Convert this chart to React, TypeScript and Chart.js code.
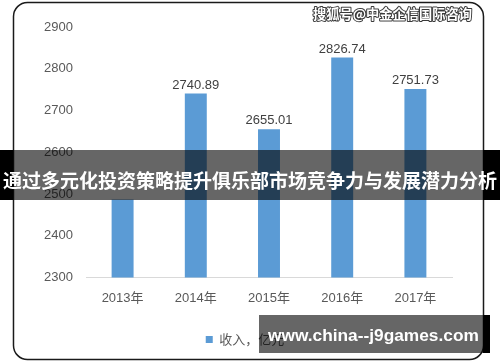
import React, { useEffect, useRef } from "react";
import { Chart, registerables } from "chart.js";

Chart.register(...registerables);

const categories = ["2013年", "2014年", "2015年", "2016年", "2017年"];
const revenue = [2487, 2740.89, 2655.01, 2826.74, 2751.73];
const labelShown = [false, true, true, true, true];
const seriesLabel = "收入，亿元";
const yMin = 2300;
const yMax = 2900;
const yStep = 100;
const bannerTitle = "通过多元化投资策略提升俱乐部市场竞争力与发展潜力分析";
const topMark = "搜狐号@中金企信国际咨询";
const bottomMark = "www.china--j9games.com";

const FONT = "'Liberation Sans', 'Noto Sans CJK SC', sans-serif";
const CJK = "'Noto Sans CJK SC', 'Liberation Sans', sans-serif";

function roundRect(ctx: CanvasRenderingContext2D, x: number, y: number, w: number, h: number, r: number) {
  ctx.beginPath();
  ctx.moveTo(x + r, y);
  ctx.lineTo(x + w - r, y);
  ctx.arcTo(x + w, y, x + w, y + r, r);
  ctx.lineTo(x + w, y + h - r);
  ctx.arcTo(x + w, y + h, x + w - r, y + h, r);
  ctx.lineTo(x + r, y + h);
  ctx.arcTo(x, y + h, x, y + h - r, r);
  ctx.lineTo(x, y + r);
  ctx.arcTo(x, y, x + r, y, r);
  ctx.closePath();
}

const decorPlugin = {
  id: "decor",
  beforeDraw(chart: any) {
    const ctx = chart.ctx as CanvasRenderingContext2D;
    ctx.save();
    ctx.fillStyle = "#ffffff";
    ctx.fillRect(0, 0, chart.width, chart.height);
    ctx.restore();
  },
  afterDatasetsDraw(chart: any) {
    const ctx = chart.ctx as CanvasRenderingContext2D;
    const meta = chart.getDatasetMeta(0);
    ctx.save();
    ctx.font = `13px ${FONT}`;
    ctx.fillStyle = "#404040";
    ctx.textAlign = "center";
    ctx.textBaseline = "bottom";
    meta.data.forEach((bar: any, i: number) => {
      if (!labelShown[i]) return;
      ctx.fillText(revenue[i].toFixed(2), bar.x, bar.y - 2);
    });
    ctx.restore();
  },
  afterDraw(chart: any) {
    const ctx = chart.ctx as CanvasRenderingContext2D;
    ctx.save();
    // rounded frame
    ctx.strokeStyle = "#1a1a1a";
    ctx.lineWidth = 1.5;
    roundRect(ctx, 13.5, 2.5, 470, 357, 14);
    ctx.stroke();

    // top-right watermark
    ctx.font = `bold 14px ${CJK}`;
    ctx.textAlign = "left";
    ctx.textBaseline = "middle";
    const tw = ctx.measureText(topMark).width;
    const scaleT = 159 / tw;
    ctx.font = `bold ${(14 * scaleT).toFixed(2)}px ${CJK}`;
    ctx.lineWidth = 2;
    ctx.strokeStyle = "#3a3a3a";
    ctx.lineJoin = "round";
    ctx.strokeText(topMark, 313, 14);
    ctx.fillStyle = "#ffffff";
    ctx.fillText(topMark, 313, 14);

    // middle banner
    ctx.fillStyle = "#000000";
    ctx.fillRect(0, 150, 13, 50);
    ctx.fillRect(483, 150, 17, 50);
    ctx.fillStyle = "rgba(0,0,0,0.6)";
    ctx.fillRect(13, 150, 470, 50);
    ctx.font = `bold 20px ${CJK}`;
    const bw = ctx.measureText(bannerTitle).width;
    ctx.font = `bold ${(20 * 494 / bw).toFixed(2)}px ${CJK}`;
    ctx.fillStyle = "#ffffff";
    ctx.textAlign = "center";
    ctx.textBaseline = "middle";
    ctx.fillText(bannerTitle, 250, 181);

    // bottom watermark
    ctx.fillStyle = "rgba(0,0,0,0.6)";
    ctx.fillRect(259, 315, 224, 38);
    ctx.fillStyle = "#000000";
    ctx.fillRect(483, 315, 7, 38);
    ctx.font = `bold 17px ${FONT}`;
    const ww = ctx.measureText(bottomMark).width;
    ctx.font = `bold ${(17 * 211 / ww).toFixed(2)}px ${FONT}`;
    ctx.fillStyle = "#ffffff";
    ctx.textAlign = "left";
    ctx.textBaseline = "middle";
    ctx.fillText(bottomMark, 268, 336);
    ctx.restore();
  },
};

export default function App() {
  const ref = useRef<HTMLCanvasElement | null>(null);
  useEffect(() => {
    if (!ref.current) return;
    const chart = new Chart(ref.current, {
      type: "bar",
      data: {
        labels: categories,
        datasets: [
          {
            label: seriesLabel,
            data: revenue,
            backgroundColor: "#5B9BD5",
            borderWidth: 0,
            barPercentage: 0.3,
            categoryPercentage: 1,
          },
        ],
      },
      options: {
        animation: false,
        responsive: false,
        maintainAspectRatio: false,
        layout: { padding: { left: 13, right: 23, top: 27, bottom: 6 } },
        plugins: {
          legend: {
            position: "bottom",
            labels: {
              boxWidth: 7,
              boxHeight: 7,
              padding: 16.5,
              color: "#595959",
              font: { size: 13, family: CJK },
            },
          },
          tooltip: { enabled: false },
        },
        scales: {
          x: {
            grid: { display: false, drawTicks: false },
            border: { display: true, color: "#d9d9d9", width: 1 },
            ticks: { color: "#595959", font: { size: 13, family: FONT }, padding: 13 },
            afterFit: (s: any) => {
              s.height = 39;
            },
          },
          y: {
            min: yMin,
            max: yMax,
            grid: { display: false, drawTicks: false },
            border: { display: false },
            ticks: {
              stepSize: yStep,
              color: "#595959",
              font: { size: 13, family: FONT },
              padding: 13,
              callback: (v: any) => String(v),
            },
            afterFit: (s: any) => {
              s.width = 73;
            },
          },
          yr: {
            position: "right",
            display: true,
            grid: { display: false, drawTicks: false },
            border: { display: false },
            ticks: { display: false },
            afterFit: (s: any) => {
              s.width = 25;
            },
          },
        },
      },
      plugins: [decorPlugin],
    });
    return () => chart.destroy();
  }, []);
  return (
    <div style={{ position: "fixed", left: 0, top: 0, width: 500, height: 362 }}>
      <canvas ref={ref} width={500} height={362} style={{ width: 500, height: 362 }} />
    </div>
  );
}
